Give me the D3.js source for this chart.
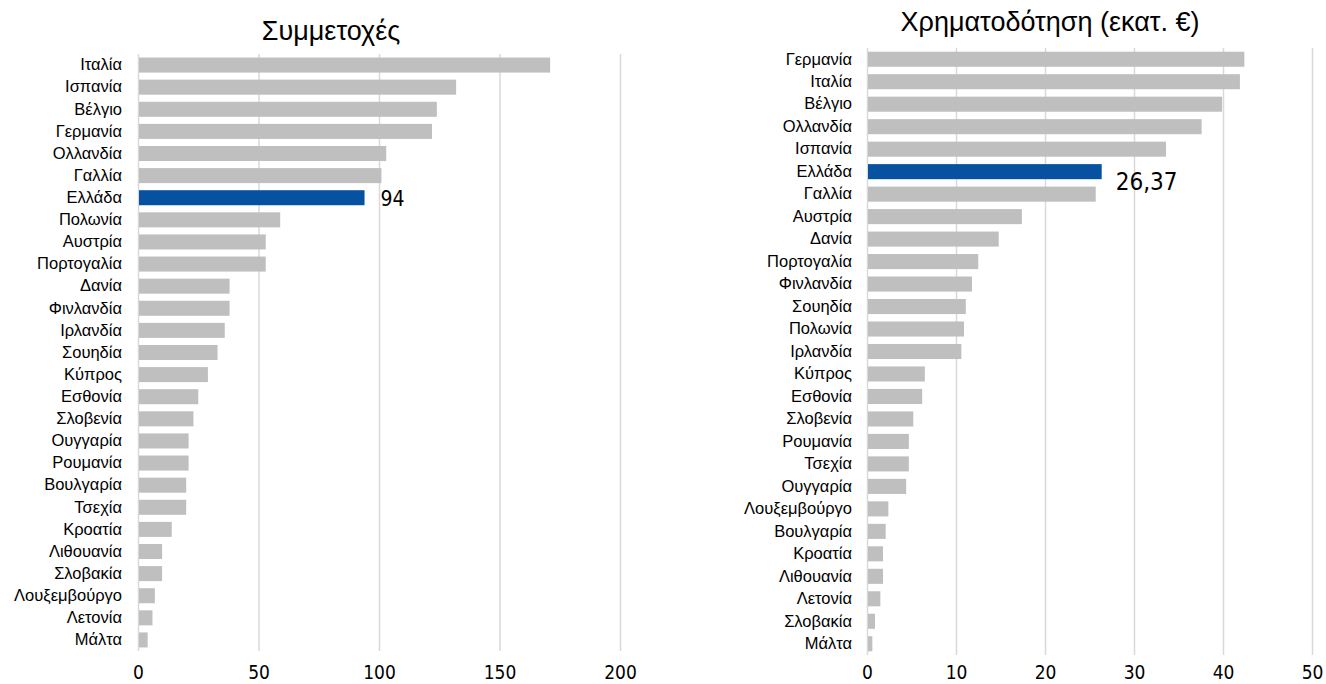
<!DOCTYPE html>
<html>
<head>
<meta charset="utf-8">
<script src="https://cdn.jsdelivr.net/npm/d3@7"></script>
<style>
  html, body { margin: 0; padding: 0; background: #fff; }
  svg { display: block; }
  text { fill: #000; }
</style>
</head>
<body>
<svg id="chart" width="1326" height="684"></svg>
<script>
// ---- Data ----
const leftTitle = "Συμμετοχές";
const leftCategories = ["Ιταλία","Ισπανία","Βέλγιο","Γερμανία","Ολλανδία","Γαλλία","Ελλάδα","Πολωνία","Αυστρία","Πορτογαλία","Δανία","Φινλανδία","Ιρλανδία","Σουηδία","Κύπρος","Εσθονία","Σλοβενία","Ουγγαρία","Ρουμανία","Βουλγαρία","Τσεχία","Κροατία","Λιθουανία","Σλοβακία","Λουξεμβούργο","Λετονία","Μάλτα"];
const leftValues = [171,132,124,122,103,101,94,59,53,53,38,38,36,33,29,25,23,21,21,20,20,14,10,10,7,6,4];
const leftTicks = [0,50,100,150,200];

const rightTitle = "Χρηματοδότηση (εκατ. €)";
const rightCategories = ["Γερμανία","Ιταλία","Βέλγιο","Ολλανδία","Ισπανία","Ελλάδα","Γαλλία","Αυστρία","Δανία","Πορτογαλία","Φινλανδία","Σουηδία","Πολωνία","Ιρλανδία","Κύπρος","Εσθονία","Σλοβενία","Ρουμανία","Τσεχία","Ουγγαρία","Λουξεμβούργο","Βουλγαρία","Κροατία","Λιθουανία","Λετονία","Σλοβακία","Μάλτα"];
const rightValues = [42.4,41.9,39.9,37.6,33.6,26.37,25.7,17.4,14.8,12.5,11.8,11.1,10.9,10.6,6.5,6.2,5.2,4.7,4.7,4.4,2.4,2.1,1.8,1.8,1.5,0.9,0.6];
const rightTicks = [0,10,20,30,40,50];

const highlight = "Ελλάδα";
const leftLabelText = "94";
const rightLabelText = "26,37";
</script>
<script>
const svg = d3.select("#chart");
const GREY = "#bfbfbf", BLUE = "#0652a0", GRID = "#d9d9d9";
const SANS = '"Liberation Sans", Arial, "Roboto", sans-serif';
const COND = '"DejaVu Sans Condensed", "Liberation Sans Narrow", sans-serif';

function panel(cfg) {
  const g = svg.append("g");
  const x = d3.scaleLinear().domain(cfg.domain).range([cfg.x0, cfg.x1]);
  const y = d3.scaleBand().domain(cfg.categories).range([cfg.y0, cfg.y1]).paddingInner(cfg.pad).paddingOuter(cfg.pad / 2);

  // gridlines
  g.append("g")
    .attr("transform", `translate(0,${cfg.y0})`)
    .call(d3.axisBottom(x).tickValues(cfg.ticks).tickSize(cfg.y1 - cfg.y0).tickFormat(""))
    .call(s => s.select(".domain").remove())
    .call(s => s.selectAll("line").attr("stroke", GRID).attr("stroke-width", 1.5));

  // tick labels
  g.append("g")
    .attr("transform", `translate(0,${cfg.tickY})`)
    .call(d3.axisBottom(x).tickValues(cfg.ticks).tickSize(0).tickPadding(0).tickFormat(d3.format("d")))
    .call(s => s.select(".domain").remove())
    .call(s => s.selectAll("text").attr("dy", 0).attr("y", 0).attr("font-size", cfg.tickFont).attr("fill", "#000")
      .style("font-family", COND));

  // bars
  g.selectAll("rect.bar").data(cfg.categories.map((c, i) => ({c, v: cfg.values[i]})))
    .join("rect")
    .attr("class", "bar")
    .attr("x", x(0) + 1)
    .attr("y", d => y(d.c))
    .attr("width", d => x(d.v) - x(0) - 1)
    .attr("height", y.bandwidth())
    .attr("fill", d => d.c === highlight ? BLUE : GREY);

  // category labels
  g.append("g")
    .attr("transform", `translate(${cfg.labelX},0)`)
    .call(d3.axisLeft(y).tickSize(0).tickPadding(0))
    .call(s => s.select(".domain").remove())
    .call(s => s.selectAll("text").attr("font-size", cfg.catFont).attr("fill", "#000")
      .style("font-family", SANS));

  // title
  g.append("text")
    .attr("x", cfg.titleX).attr("y", cfg.titleY)
    .attr("text-anchor", "middle")
    .attr("font-size", cfg.titleFont)
    .style("font-family", SANS)
    .text(cfg.title);

  // data label
  const hv = cfg.values[cfg.categories.indexOf(highlight)];
  g.append("text")
    .attr("x", x(hv) + cfg.dlDx)
    .attr("y", y(highlight) + y.bandwidth() / 2 + cfg.dlDy)
    .attr("font-size", cfg.dlFont)
    .style("font-family", COND)
    .text(cfg.dlText);
}

panel({
  categories: leftCategories, values: leftValues, ticks: leftTicks, domain: [0, 200],
  x0: 138, x1: 620, y0: 54, y1: 651, pad: 0.32,
  tickY: 679, tickFont: 19, labelX: 122, catFont: 16.5,
  title: leftTitle, titleX: 331, titleY: 40, titleFont: 27,
  dlText: leftLabelText, dlDx: 16, dlDy: 8, dlFont: 21
});

panel({
  categories: rightCategories, values: rightValues, ticks: rightTicks, domain: [0, 50],
  x0: 867, x1: 1312, y0: 48, y1: 655, pad: 0.33,
  tickY: 679, tickFont: 19, labelX: 852, catFont: 16.5,
  title: rightTitle, titleX: 1050, titleY: 31, titleFont: 27,
  dlText: rightLabelText, dlDx: 14, dlDy: 18, dlFont: 24
});
</script>
</body>
</html>
